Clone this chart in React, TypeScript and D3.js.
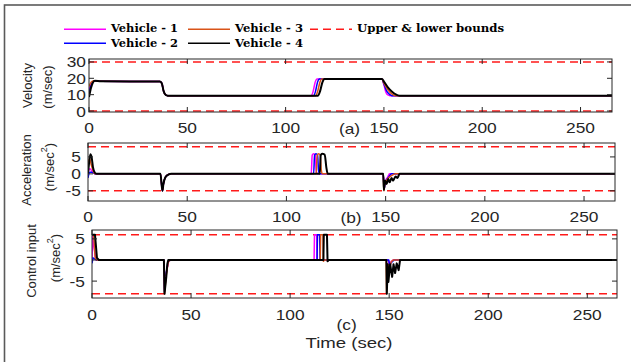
import React from 'react';
import * as d3 from 'd3';

// ---------- DATA ----------
const vehicleNames = ['Vehicle - 1', 'Vehicle - 2', 'Vehicle - 3', 'Vehicle - 4'];
const vehicleColors = ['#ff00ff', '#0000ff', '#d95319', '#000000'];
const xTicks = [0, 50, 100, 150, 200, 250];

// Velocity (m/sec) : [time, value]
const velV1: [number, number][] = [[0, 13], [1, 16.5], [2, 18], [3, 18.4], [6, 18.2], [36, 18], [37, 17], [38, 12], [39, 9.8], [40, 9.4], [113, 9.4], [114, 12], [115, 17.5], [116, 19.6], [149, 19.6], [150, 16], [151, 11.5], [152, 9.8], [153, 9.4], [266, 9.4]];
const velV2: [number, number][] = [[0, 11], [1, 15.5], [2, 17.8], [3, 18.4], [6, 18.2], [36, 18], [37, 17], [38, 12], [39, 9.8], [40, 9.4], [114.2, 9.4], [115.2, 12], [116.2, 17.5], [117.2, 19.6], [149, 19.6], [150, 16.5], [151.5, 12], [153, 10], [154, 9.4], [266, 9.4]];
const velV3: [number, number][] = [[0, 15], [1, 17.5], [2, 18.3], [3, 18.5], [6, 18.2], [36, 18], [37, 17], [38, 12], [39, 9.8], [40, 9.4], [115.3, 9.4], [116.3, 12], [117.4, 17.5], [118.4, 19.6], [149, 19.6], [150, 17], [152, 13], [154, 10.5], [156, 9.4], [266, 9.4]];
const velV4: [number, number][] = [[0, 8.5], [1, 14], [2, 17.5], [3, 18.5], [6, 18.2], [36, 18], [37, 17], [38, 12], [39, 9.8], [40, 9.4], [116.5, 9.4], [117.5, 12], [118.7, 17.5], [119.8, 19.6], [149, 19.6], [150, 18], [152, 14.5], [154, 12], [156, 10.2], [158, 9.4], [266, 9.4]];

// Acceleration (m/sec^2)
const accV1: [number, number][] = [[0, 0.5], [1, 1.5], [2, 0.8], [3.5, 0], [36.5, 0], [37.5, -5], [38, -3], [39, -1], [40.5, -0.2], [42, 0], [112.5, 0], [113, 5.5], [113.7, 5.9], [114.5, 5.5], [115, 1], [115.5, 0], [148.8, 0], [149.2, -4], [150, -2], [151, -1], [152, 0], [266, 0]];
const accV2: [number, number][] = [[0, -1.2], [0.8, 0.5], [2, 0.5], [3.5, 0], [36.5, 0], [37.5, -5], [38, -3], [39, -1], [40.5, -0.2], [42, 0], [113.7, 0], [114.2, 5.5], [114.9, 5.9], [115.7, 5.5], [116.2, 1], [116.7, 0], [148.8, 0], [149.2, -4.5], [150, -2.2], [151.5, -1], [153, 0], [266, 0]];
const accV3: [number, number][] = [[0, 3], [0.8, 4.5], [1.5, 3], [2.5, 1], [3.5, 0], [36.5, 0], [37.5, -5], [38, -3], [39, -1], [40.5, -0.2], [42, 0], [115, 0], [115.5, 5.5], [116.2, 5.9], [117, 5.5], [117.6, 1], [118.1, 0], [148.8, 0], [149.1, -5], [149.6, -3], [151, -1.5], [153, -0.5], [155, 0], [266, 0]];
const accV4: [number, number][] = [[0, 0], [0.5, 3], [1.2, 5.8], [1.8, 5], [2.5, 2], [3.5, 0.3], [4.5, 0], [36.5, 0], [37.5, -5], [38, -3], [39, -1], [40.5, -0.2], [42, 0], [116.8, 0], [117.3, 5.5], [118, 5.9], [119.3, 5.7], [120.1, 2], [120.8, 0], [148.8, 0], [149.1, -4.8], [149.7, -2], [150.5, -3], [151.3, -1.5], [152, -2.5], [153, -1.2], [153.7, -2], [155, -0.8], [156, -1.2], [157, 0], [266, 0]];

// Control input (m/sec^2)
const ctrlV1: [number, number][] = [[0, 0], [0.3, 5.5], [1, 3], [2, 0], [36.3, 0], [36.6, -7], [37.5, -3], [38.5, -0.5], [39.5, 0], [112.1, 0], [112.3, 6], [113.4, 6], [113.6, 0], [149.5, 0], [150, -1], [151, -0.4], [152, 0], [266, 0]];
const ctrlV2: [number, number][] = [[0, -0.8], [0.5, 0.5], [1.5, 0.2], [2.5, 0], [36.3, 0], [36.6, -7.5], [37.5, -3], [38.5, -0.5], [39.5, 0], [113.6, 0], [113.8, 6], [114.9, 6], [115.1, 0], [149.8, 0], [150.3, -1.2], [151.3, -0.5], [152.5, 0], [266, 0]];
const ctrlV3: [number, number][] = [[0, 6], [0.8, 6], [1.6, 0.5], [2.5, 0], [36.3, 0], [36.6, -8], [37.5, -3.5], [38.5, -0.5], [39.5, 0], [115.2, 0], [115.4, 6], [116.6, 6], [116.8, -0.3], [117.3, 0], [148.5, 0], [148.7, -8], [149.3, -1], [150, -2.5], [151, -0.5], [152, 0], [266, 0]];
const ctrlV4: [number, number][] = [[0, 6], [1.5, 6], [2.5, 0.5], [3.5, 0], [36.3, 0], [36.6, -8], [37.5, -4], [38, -1], [38.5, 0], [116.8, 0], [117, 6], [118.6, 6], [118.9, -0.3], [119.5, 0], [148.6, 0], [148.8, -8], [149.3, -1], [149.6, -5.2], [150.5, -1], [151.5, -4], [152.2, -1], [153, -3.1], [153.8, -0.8], [154.8, -2.4], [155.5, 0], [266, 0]];

const velBounds = [0, 30];
const accBounds = [-5, 8];
const ctrlBounds = [-8, 6];
const velTicks = [0, 10, 20, 30];
const accTicks = [-5, 0, 5];
const ctrlTicks = [-5, 0, 5];

// ---------- LAYOUT ----------
const AXIS_COLOR = '#262626';
const SANS = '"Liberation Sans", Arial, Helvetica, sans-serif';
const SX = 1.24;

type Panel = {
  series: [number, number][][];
  bounds: number[];
  yTicks: number[];
  left: number; right: number; top: number; bottom: number;
  xMax: number; yDom: [number, number];
  curve: any;
  yTickRight: number;
  xTickBase: number;
  tag: string; tagX: number; tagY: number;
  ylab1: string; ylab1X: number; ylab1Y: number;
  ylab2Sup: boolean; ylab2X: number; ylab2Y: number;
};

const panels: Panel[] = [
  {
    series: [velV1, velV2, velV3, velV4], bounds: velBounds, yTicks: velTicks,
    left: 89, right: 612, top: 59, bottom: 112, xMax: 266, yDom: [-0.6, 31.8],
    curve: d3.curveMonotoneX, yTickRight: 86, xTickBase: 133,
    tag: '(a)', tagX: 349.5, tagY: 134,
    ylab1: 'Velocity', ylab1X: 27.5, ylab1Y: 85.5, ylab2Sup: false, ylab2X: 47, ylab2Y: 87,
  },
  {
    series: [accV1, accV2, accV3, accV4], bounds: accBounds, yTicks: accTicks,
    left: 88, right: 615, top: 143, bottom: 201, xMax: 265.6, yDom: [-8, 9.1],
    curve: d3.curveMonotoneX, yTickRight: 81, xTickBase: 222,
    tag: '(b)', tagX: 351, tagY: 222.5,
    ylab1: 'Acceleration', ylab1X: 26, ylab1Y: 170, ylab2Sup: true, ylab2X: 49, ylab2Y: 167,
  },
  {
    series: [ctrlV1, ctrlV2, ctrlV3, ctrlV4], bounds: ctrlBounds, yTicks: ctrlTicks,
    left: 92, right: 617, top: 230, bottom: 298, xMax: 265, yDom: [-9, 7.1],
    curve: d3.curveLinear, yTickRight: 85, xTickBase: 319.5,
    tag: '(c)', tagX: 346.7, tagY: 329.5,
    ylab1: 'Control input', ylab1X: 31.5, ylab1Y: 261, ylab2Sup: true, ylab2X: 55, ylab2Y: 258,
  },
];

function PanelView({ p }: { p: Panel }) {
  const x = d3.scaleLinear().domain([0, p.xMax]).range([p.left, p.right]);
  const y = d3.scaleLinear().domain(p.yDom).range([p.bottom, p.top]);
  const line = d3.line<[number, number]>().x(d => x(d[0])).y(d => y(d[1])).curve(p.curve);
  const clipId = 'clip' + p.tag.replace(/[()]/g, '');
  const tickLen = 5;
  return (
    <g>
      <defs>
        <clipPath id={clipId}>
          <rect x={p.left} y={p.top} width={p.right - p.left} height={p.bottom - p.top} />
        </clipPath>
      </defs>
      <rect x={p.left} y={p.top} width={p.right - p.left} height={p.bottom - p.top} fill="#fff" />
      <g clipPath={`url(#${clipId})`}>
        {p.bounds.map((b, i) => (
          <line key={'b' + i} x1={p.left} x2={p.right} y1={y(b)} y2={y(b)} stroke="#ff1a1a" strokeWidth={1.5} strokeDasharray="8,5" />
        ))}
        {p.series.map((s, i) => (
          <path key={'s' + i} d={line(s) || ''} fill="none" stroke={vehicleColors[i]} strokeWidth={i === 3 ? 2 : 1.5} strokeLinejoin="round" />
        ))}
      </g>
      {/* box */}
      <rect x={p.left} y={p.top} width={p.right - p.left} height={p.bottom - p.top} fill="none" stroke={AXIS_COLOR} strokeWidth={1} />
      {/* x ticks */}
      {xTicks.map(t => (
        <g key={'xt' + t}>
          <line x1={x(t)} x2={x(t)} y1={p.bottom} y2={p.bottom - tickLen} stroke={AXIS_COLOR} />
          <line x1={x(t)} x2={x(t)} y1={p.top} y2={p.top + tickLen} stroke={AXIS_COLOR} />
          <text transform={`translate(${x(t)},${p.xTickBase}) scale(${SX},1)`} textAnchor="middle" fontFamily={SANS} fontSize={14} fill={AXIS_COLOR}>{t}</text>
        </g>
      ))}
      {/* y ticks */}
      {p.yTicks.map(t => (
        <g key={'yt' + t}>
          <line x1={p.left} x2={p.left + tickLen} y1={y(t)} y2={y(t)} stroke={AXIS_COLOR} />
          <line x1={p.right} x2={p.right - tickLen} y1={y(t)} y2={y(t)} stroke={AXIS_COLOR} />
          <text transform={`translate(${p.yTickRight},${y(t) + 5.5}) scale(${SX},1)`} textAnchor="end" fontFamily={SANS} fontSize={14} fill={AXIS_COLOR}>{t < 0 ? '-' + Math.abs(t) : t}</text>
        </g>
      ))}
      {/* panel tag */}
      <text transform={`translate(${p.tagX},${p.tagY}) scale(${SX},1)`} textAnchor="middle" fontFamily={SANS} fontSize={14} fill={AXIS_COLOR}>{p.tag}</text>
      {/* y labels */}
      <text transform={`translate(${p.ylab1X},${p.ylab1Y}) rotate(-90)`} textAnchor="middle" dominantBaseline="central" fontFamily={SANS} fontSize={13} fill={AXIS_COLOR}>{p.ylab1}</text>
      <text transform={`translate(${p.ylab2X},${p.ylab2Y}) rotate(-90)`} textAnchor="middle" dominantBaseline="central" fontFamily={SANS} fontSize={13} fill={AXIS_COLOR}>
        {p.ylab2Sup ? (<>(m/sec<tspan dy={-5} fontSize={9}>2</tspan><tspan dy={5}>)</tspan></>) : '(m/sec)'}
      </text>
    </g>
  );
}

const legendItems = [
  { name: vehicleNames[0], color: vehicleColors[0], dashed: false, lx: 64, ty: 32, ly: 29.3, tw: 67 },
  { name: vehicleNames[2], color: vehicleColors[2], dashed: false, lx: 188, ty: 32, ly: 29.3, tw: 68 },
  { name: 'Upper & lower bounds', color: '#ff1a1a', dashed: true, lx: 310, ty: 32, ly: 29.3, tw: 147 },
  { name: vehicleNames[1], color: vehicleColors[1], dashed: false, lx: 64, ty: 46.7, ly: 43.3, tw: 67 },
  { name: vehicleNames[3], color: vehicleColors[3], dashed: false, lx: 188, ty: 46.7, ly: 43.3, tw: 68 },
];

export default function App() {
  return (
    <svg width={631} height={362} style={{ position: 'absolute', left: 0, top: 0, background: '#fff' }}>
      <rect x={0} y={0} width={631} height={362} fill="#fff" />
      <rect x={4.5} y={5} width={700} height={400} fill="none" stroke="#5a5a5a" strokeWidth={1.6} />
      {legendItems.map((it, i) => (
        <g key={'lg' + i}>
          <line x1={it.lx} x2={it.lx + 42} y1={it.ly} y2={it.ly} stroke={it.color} strokeWidth={1.5} strokeDasharray={it.dashed ? '8,5' : undefined} />
          <text x={it.lx + 47} y={it.ty} fontFamily='"DejaVu Serif", "Liberation Serif", serif' fontWeight="bold" fontSize={10.5} fill="#000" textLength={it.tw} lengthAdjust="spacingAndGlyphs">{it.name}</text>
        </g>
      ))}
      {panels.map((p, i) => <PanelView key={i} p={p} />)}
      <text transform={`translate(349,347.7) scale(${SX},1)`} textAnchor="middle" fontFamily={SANS} fontSize={15} fill={AXIS_COLOR}>Time (sec)</text>
    </svg>
  );
}
